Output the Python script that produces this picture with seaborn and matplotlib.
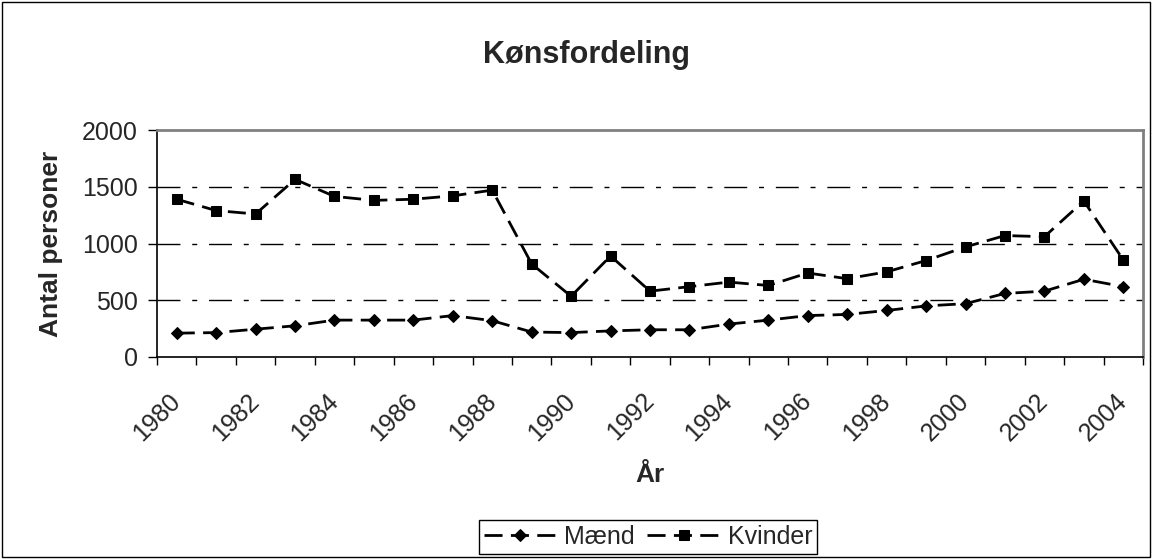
import numpy as np
import pandas as pd
import matplotlib
matplotlib.use("Agg")
import matplotlib.pyplot as plt
import seaborn as sns
from matplotlib.patches import Rectangle

# data
years = list(range(1980, 2005))
maend = [210, 215, 245, 275, 325, 325, 325, 365, 320, 220, 215, 230, 240,
         240, 290, 325, 365, 375, 410, 450, 470, 560, 580, 685, 620]
kvinder = [1390, 1290, 1260, 1565, 1415, 1380, 1390, 1420, 1470, 820, 535, 890, 580,
           620, 660, 630, 740, 690, 750, 850, 970, 1070, 1060, 1375, 855]
ytick_vals = [0, 500, 1000, 1500, 2000]
xtick_years = list(range(1980, 2005, 2))

sns.set_style("white")
plt.rcParams['font.family'] = ['Liberation Sans', 'DejaVu Sans']

W, H = 1152, 559
fig = plt.figure(figsize=(W / 100, H / 100), dpi=100)
L, R, T, B = 157, 1143, 130, 357
ax = fig.add_axes([L / W, 1 - B / H, (R - L) / W, (B - T) / H])

dash = (0, (6.5, 3))
sns.lineplot(x=years, y=maend, ax=ax, color='black', lw=2, linestyle=dash,
             marker='D', markersize=6.6, markeredgecolor='black', markerfacecolor='black',
             label='Mænd')
sns.lineplot(x=years, y=kvinder, ax=ax, color='black', lw=2, linestyle=dash,
             marker='s', markersize=7.8, markeredgecolor='black', markerfacecolor='black',
             label='Kvinder')

ax.set_xlim(1979.5, 2004.5)
ax.set_ylim(0, 2000)

# dashed gridlines (long-short pattern)
for v in ytick_vals[1:-1]:
    ax.axhline(v, color='black', lw=1, linestyle=(0, (16.5, 8.5, 3.6, 8.5)), zorder=0)

ax.set_yticks(ytick_vals)
ax.set_yticklabels([str(v) for v in ytick_vals])
ax.tick_params(axis='y', direction='out', length=6.5, width=1, color='black',
               labelsize=18, pad=7.5, left=True)

ax.set_xticks(xtick_years)
ax.set_xticklabels([str(y) for y in xtick_years], rotation=45, ha='right',
                   rotation_mode='anchor', va='center')
ax.set_xticks(np.arange(1979.5, 2005, 1), minor=True)
ax.tick_params(axis='x', which='major', length=0, labelsize=18, pad=29)
ax.tick_params(axis='x', which='minor', direction='out', length=6, width=1,
               color='black', bottom=True)

for s in ['top', 'right']:
    ax.spines[s].set_color('#808080')
    ax.spines[s].set_linewidth(2)
for s in ['left', 'bottom']:
    ax.spines[s].set_color('black')
    ax.spines[s].set_linewidth(1.2)

ax.set_ylabel('Antal personer', fontsize=19, fontweight='bold')
ax.yaxis.set_label_coords((63 - L) / (R - L), 0.5)
ax.set_xlabel('')

fig.text((L + R) / 2 / W, 1 - 475 / H, 'År', ha='center', va='center',
         fontsize=19, fontweight='bold')
fig.text(0.509, 1 - 55 / H, 'Kønsfordeling', ha='center', va='center',
         fontsize=22, fontweight='bold')

handles, labels = ax.get_legend_handles_labels()
ax.get_legend().remove()
leg = fig.legend(handles, labels, loc='center', ncol=2,
                 bbox_to_anchor=(648 / W, 1 - 537 / H),
                 fontsize=18, frameon=True, fancybox=False, framealpha=1,
                 edgecolor='black', handlelength=2.9, handletextpad=0.32,
                 columnspacing=0.5, borderpad=0.2, borderaxespad=0)
leg.get_frame().set_linewidth(1)

fig.patches.append(Rectangle((2 / W, 2 / H), 1 - 4 / W, 1 - 4 / H,
                             transform=fig.transFigure, fill=False,
                             edgecolor='black', lw=1))

fig.savefig('out.png', dpi=100)
